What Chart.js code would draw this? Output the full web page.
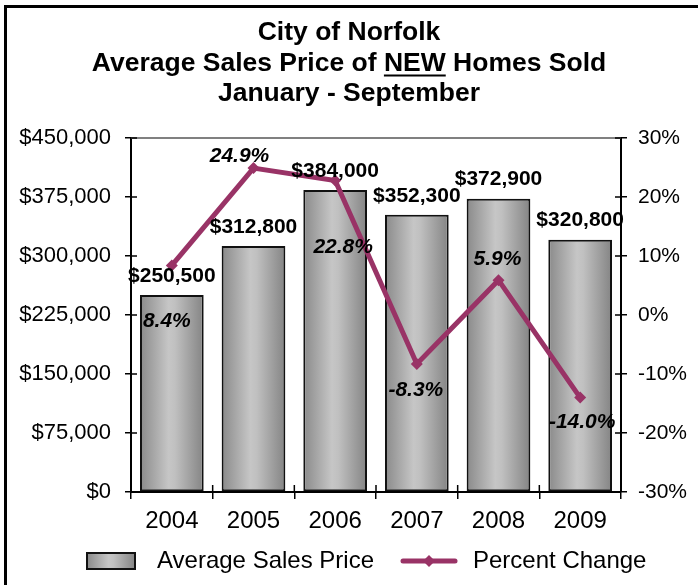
<!DOCTYPE html>
<html>
<head>
<meta charset="utf-8">
<title>City of Norfolk - Average Sales Price of New Homes</title>
<script src="https://cdn.jsdelivr.net/npm/chart.js@4.4.1/dist/chart.umd.min.js"></script>
<style>
  html, body { margin: 0; padding: 0; background: #fff; }
  canvas { display: block; }
</style>
</head>
<body>
<canvas id="sales-chart" width="698" height="585"></canvas>
<script>
const years = ["2004", "2005", "2006", "2007", "2008", "2009"];
const averagePrices = [250500, 312800, 384000, 352300, 372900, 320800];
const percentChanges = [8.4, 24.9, 22.8, -8.3, 5.9, -14.0];
const titleLines = ["City of Norfolk", "Average Sales Price of NEW Homes Sold", "January - September"];
const legendLabels = ["Average Sales Price", "Percent Change"];

const priceMin = 0;
const priceMax = 450000;
const priceStep = 75000;
const percentMin = -30;
const percentMax = 30;
const percentStep = 10;

const FONT = "'Liberation Sans', Arial, Helvetica, sans-serif";
const PLUM = "#993366";
const TITLE_SIZE = 26.5;
const TITLE_LH = 30.5 / 26.5;
const TITLE_PAD_TOP = 17.75;
const BAR_PCT = 0.78;

// where each percent label sits relative to its point
const percentLabelOffsets = [[-5, 56], [-14, -12], [8, 67], [-1, 26], [-1, -21], [2, 25]];

function barGradient(ctx, left, right) {
  const g = ctx.createLinearGradient(left, 0, right, 0);
  g.addColorStop(0, "#8a8a8a");
  g.addColorStop(0.45, "#c6c6c6");
  g.addColorStop(0.55, "#c0c0c0");
  g.addColorStop(1, "#848484");
  return g;
}

function barFill(context) {
  const chart = context.chart;
  const xScale = chart.scales.x;
  if (!chart.chartArea || !xScale || !isFinite(xScale.width) || xScale.width <= 0) {
    return "#b0b0b0";
  }
  const half = (xScale.width / years.length) * BAR_PCT / 2;
  const center = xScale.getPixelForValue(context.dataIndex);
  return barGradient(chart.ctx, center - half, center + half);
}

// white page plus the black frame along the left and top edges
const framePlugin = {
  id: "frame",
  beforeDraw(chart) {
    const ctx = chart.ctx;
    ctx.save();
    ctx.fillStyle = "#fff";
    ctx.fillRect(0, 0, chart.width, chart.height);
    ctx.fillStyle = "#000";
    ctx.fillRect(4, 5, 3, chart.height - 5);
    ctx.fillRect(4, 5, chart.width - 4, 3);
    ctx.restore();
  }
};

// gray top edge of the plot area and the inner half of the cross ticks
const axisExtras = {
  id: "axisExtras",
  beforeDatasetsDraw(chart) {
    const { ctx, chartArea } = chart;
    ctx.save();
    ctx.strokeStyle = "#808080";
    ctx.lineWidth = 2;
    ctx.beginPath();
    ctx.moveTo(chartArea.left, chartArea.top);
    ctx.lineTo(chartArea.right, chartArea.top);
    ctx.stroke();

    ctx.strokeStyle = "#000";
    ctx.lineWidth = 1.5;
    ctx.beginPath();
    const y = chart.scales.y;
    y.ticks.forEach((t, i) => {
      const py = y.getPixelForTick(i);
      ctx.moveTo(chartArea.left, py);
      ctx.lineTo(chartArea.left + 6, py);
    });
    const y1 = chart.scales.y1;
    y1.ticks.forEach((t, i) => {
      const py = y1.getPixelForTick(i);
      ctx.moveTo(chartArea.right, py);
      ctx.lineTo(chartArea.right - 6, py);
    });
    const x = chart.scales.x;
    const step = x.width / years.length;
    for (let i = 1; i < years.length; i++) {
      const px = x.left + step * i;
      ctx.moveTo(px, chartArea.bottom);
      ctx.lineTo(px, chartArea.bottom - 7);
    }
    ctx.stroke();
    ctx.restore();
  }
};

const dataLabels = {
  id: "dataLabels",
  afterDatasetsDraw(chart) {
    const ctx = chart.ctx;
    ctx.save();
    ctx.fillStyle = "#000";
    ctx.textAlign = "center";
    ctx.textBaseline = "middle";
    ctx.font = `bold 21px ${FONT}`;
    chart.getDatasetMeta(0).data.forEach((bar, i) => {
      ctx.fillText("$" + averagePrices[i].toLocaleString("en-US"), bar.x, bar.y - 19);
    });
    ctx.font = `italic bold 21px ${FONT}`;
    chart.getDatasetMeta(1).data.forEach((pt, i) => {
      const [dx, dy] = percentLabelOffsets[i];
      ctx.fillText(percentChanges[i].toFixed(1) + "%", pt.x + dx, pt.y + dy);
    });
    ctx.restore();
  }
};

// underline under "NEW" in the second title line
const titleUnderline = {
  id: "titleUnderline",
  afterDraw(chart) {
    const block = chart.titleBlock;
    if (!block) return;
    const ctx = chart.ctx;
    const lh = TITLE_SIZE * TITLE_LH;
    const line = titleLines[1];
    const word = "NEW";
    ctx.save();
    ctx.font = `bold ${TITLE_SIZE}px ${FONT}`;
    const full = ctx.measureText(line).width;
    const before = ctx.measureText(line.slice(0, line.indexOf(word))).width;
    const wordW = ctx.measureText(word).width;
    const cx = (block.left + block.right) / 2;
    const cy = block.top + TITLE_PAD_TOP + lh / 2 + lh;
    const start = cx - full / 2 + before;
    ctx.fillStyle = "#000";
    ctx.fillRect(start, cy + 11, wordW, 2);
    ctx.restore();
  }
};

// legend row under the year labels
const legendRow = {
  id: "legendRow",
  afterDraw(chart) {
    const ctx = chart.ctx;
    const cy = 561;
    ctx.save();
    ctx.fillStyle = barGradient(ctx, 87, 135);
    ctx.fillRect(87, 553, 48, 16);
    ctx.strokeStyle = "#111";
    ctx.lineWidth = 2;
    ctx.strokeRect(87, 553, 48, 16);

    ctx.strokeStyle = PLUM;
    ctx.lineWidth = 5;
    ctx.lineCap = "round";
    ctx.beginPath();
    ctx.moveTo(403, cy);
    ctx.lineTo(455, cy);
    ctx.stroke();
    ctx.fillStyle = PLUM;
    ctx.beginPath();
    ctx.moveTo(429, cy - 6);
    ctx.lineTo(435, cy);
    ctx.lineTo(429, cy + 6);
    ctx.lineTo(423, cy);
    ctx.closePath();
    ctx.fill();

    ctx.fillStyle = "#000";
    ctx.font = `24px ${FONT}`;
    ctx.textAlign = "left";
    ctx.textBaseline = "middle";
    ctx.fillText(legendLabels[0], 157, cy);
    ctx.fillText(legendLabels[1], 473, cy);
    ctx.restore();
  }
};

const tickFont = { family: FONT, size: 22 };

new Chart(document.getElementById("sales-chart"), {
  data: {
    labels: years,
    datasets: [
      {
        type: "bar",
        label: legendLabels[0],
        data: averagePrices,
        yAxisID: "y",
        order: 2,
        backgroundColor: barFill,
        borderColor: "#111",
        borderWidth: 2,
        borderSkipped: false,
        barPercentage: BAR_PCT,
        categoryPercentage: 1
      },
      {
        type: "line",
        label: legendLabels[1],
        data: percentChanges,
        yAxisID: "y1",
        order: 1,
        borderColor: PLUM,
        borderWidth: 5,
        tension: 0,
        pointStyle: "rectRot",
        pointRadius: 6,
        pointBackgroundColor: PLUM,
        pointBorderColor: PLUM,
        pointBorderWidth: 0
      }
    ]
  },
  options: {
    responsive: false,
    devicePixelRatio: 1,
    animation: false,
    layout: { padding: { top: 0, left: 0, right: 0, bottom: 53 } },
    plugins: {
      legend: { display: false },
      tooltip: { enabled: false },
      title: {
        display: true,
        text: titleLines,
        color: "#000",
        font: { family: FONT, size: TITLE_SIZE, weight: "bold", lineHeight: TITLE_LH },
        padding: { top: TITLE_PAD_TOP, bottom: 28.75 }
      }
    },
    scales: {
      x: {
        offset: true,
        grid: { offset: true, drawOnChartArea: false, tickLength: 7, color: "#000", lineWidth: 1.5 },
        border: { color: "#000", width: 2 },
        ticks: { color: "#000", font: { family: FONT, size: 24 }, padding: 8 },
        afterFit: (scale) => { scale.height = 40; }
      },
      y: {
        position: "left",
        min: priceMin,
        max: priceMax,
        grid: { drawOnChartArea: false, tickLength: 6, color: "#000", lineWidth: 1.5 },
        border: { color: "#000", width: 2 },
        ticks: {
          stepSize: priceStep,
          color: "#000",
          font: tickFont,
          padding: 14,
          callback: (v) => "$" + v.toLocaleString("en-US")
        },
        afterFit: (scale) => { scale.width = 131; }
      },
      y1: {
        position: "right",
        min: percentMin,
        max: percentMax,
        grid: { drawOnChartArea: false, tickLength: 6, color: "#000", lineWidth: 1.5 },
        border: { color: "#000", width: 2 },
        ticks: {
          stepSize: percentStep,
          color: "#000",
          font: { family: FONT, size: 21 },
          padding: 11,
          callback: (v) => v + "%"
        },
        afterFit: (scale) => { scale.width = 77; }
      }
    }
  },
  plugins: [framePlugin, axisExtras, dataLabels, titleUnderline, legendRow]
});
</script>
</body>
</html>
